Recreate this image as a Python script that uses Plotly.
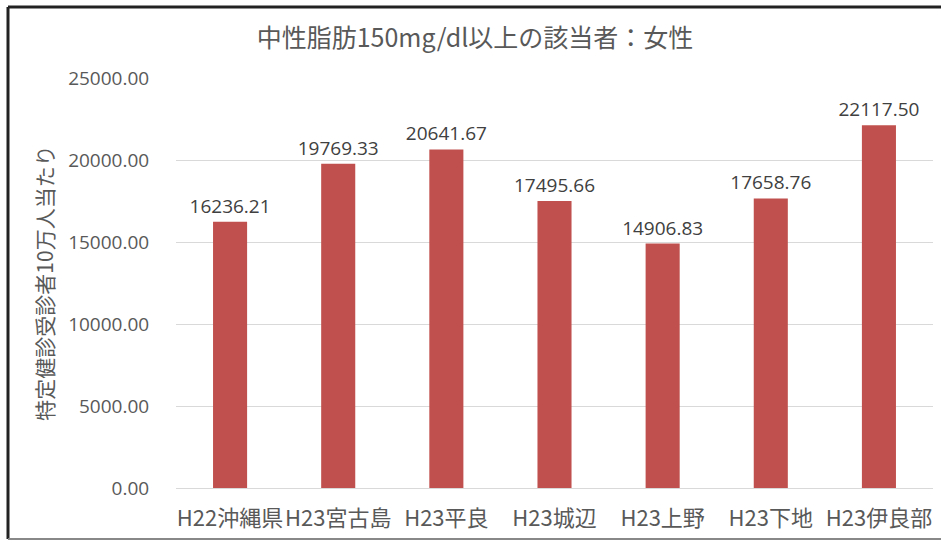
import plotly.graph_objects as go

categories = ["H22沖縄県", "H23宮古島", "H23平良", "H23城辺", "H23上野", "H23下地", "H23伊良部"]
values = [16236.21, 19769.33, 20641.67, 17495.66, 14906.83, 17658.76, 22117.50]
tick_vals = [0, 5000, 10000, 15000, 20000, 25000]
tick_text = ["0.00", "5000.00", "10000.00", "15000.00", "20000.00", "25000.00"]
title_text = "中性脂肪150mg/dl以上の該当者：女性"
y_title = "特定健診受診者10万人当たり"

CJK = "Noto Sans CJK JP"
NUM = "Open Sans, Noto Sans CJK JP"

fig = go.Figure(go.Bar(
    x=categories, y=values,
    marker=dict(color="#C0504D", line=dict(width=0)),
    text=[f"{v:.2f}" for v in values],
    textposition="outside",
    constraintext="none",
    textfont=dict(size=19, color="#404040", family=NUM),
    cliponaxis=False,
    hoverinfo="skip",
))

W, H = 941, 541
L, R, T, B = 176, 8, 78, 53
pw, ph = W - L - R, H - T - B

def px(x):
    return (x - L) / pw

def py(y):
    return (H - B - y) / ph

fig.update_layout(
    width=W, height=H,
    margin=dict(l=L, r=R, t=T, b=B, autoexpand=False),
    paper_bgcolor="white", plot_bgcolor="white",
    font=dict(family=CJK, color="#595959"),
    bargap=0.685,
    showlegend=False,
    title=dict(text=title_text, x=475 / W, xanchor="center", y=1 - 38 / H, yanchor="middle",
               font=dict(size=25, color="#595959", family=CJK)),
    xaxis=dict(tickfont=dict(size=22, color="#595959", family=CJK), showgrid=False,
               showline=True, linecolor="#d9d9d9", linewidth=1, tickangle=0,
               ticks="outside", ticklen=11, tickcolor="rgba(0,0,0,0)"),
    yaxis=dict(range=[0, 25000], tickvals=tick_vals, ticktext=tick_text,
               tickfont=dict(size=19, color="#595959", family=NUM),
               gridcolor="#d9d9d9", gridwidth=1, zeroline=False, showline=False,
               ticklen=22, tickcolor="rgba(0,0,0,0)", ticks="outside",
               title=dict(text=y_title, font=dict(size=21, color="#595959", family=CJK), standoff=8)),
    shapes=[
        dict(type="line", xref="paper", yref="paper", x0=px(8), x1=px(W), y0=py(7), y1=py(7),
             line=dict(color="#222222", width=3)),
        dict(type="line", xref="paper", yref="paper", x0=px(8), x1=px(8), y0=py(7), y1=py(539),
             line=dict(color="#222222", width=3)),
        dict(type="line", xref="paper", yref="paper", x0=px(8), x1=px(W), y0=py(539), y1=py(539),
             line=dict(color="#888888", width=2)),
    ],
)

fig.write_html(
    "out.html",
    config={"displayModeBar": False},
    post_script=(
        "document.body.style.margin='0';"
        "document.body.style.overflow='hidden';"
        "document.documentElement.style.overflow='hidden';"
    ),
)
